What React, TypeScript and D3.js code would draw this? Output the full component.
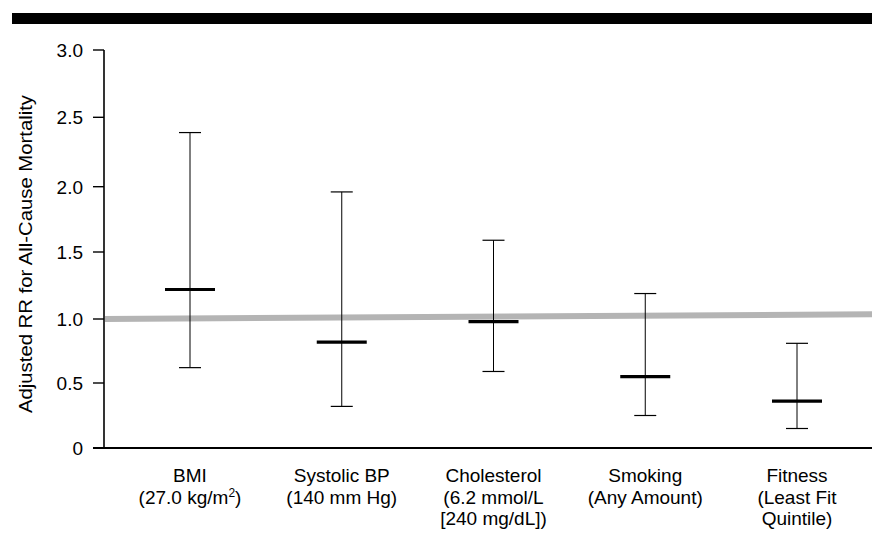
import React from "react";
import * as d3 from "d3";

const categories = [
  ["BMI", "(27.0 kg/m²)"],
  ["Systolic BP", "(140 mm Hg)"],
  ["Cholesterol", "(6.2 mmol/L", "[240 mg/dL])"],
  ["Smoking", "(Any Amount)"],
  ["Fitness", "(Least Fit", "Quintile)"],
];
const estimates = [1.22, 0.82, 0.98, 0.55, 0.36];
const lowerCI = [0.62, 0.32, 0.59, 0.25, 0.15];
const upperCI = [2.39, 1.96, 1.59, 1.19, 0.81];
const yTicks = [0, 0.5, 1.0, 1.5, 2.0, 2.5, 3.0];
const yTickLabels = ["0", "0.5", "1.0", "1.5", "2.0", "2.5", "3.0"];
const refLine = [1.0, 1.035];

const W = 872;
const H = 534;
const FONT = "'Liberation Sans', Arial, Helvetica, sans-serif";

export default function App() {
  const left = 104;
  const right = 872;
  const y = d3
    .scaleLinear()
    .domain(yTicks)
    .range([448, 383, 319, 252, 186.7, 117.3, 50]);
  const x = d3
    .scalePoint<number>()
    .domain(categories.map((_, i) => i))
    .range([190, 797]);

  return (
    <svg
      width={W}
      height={H}
      style={{ position: "absolute", left: 0, top: 0, background: "#fff" }}
    >
      <rect x={12} y={13} width={860} height={11} fill="#000" />
      {/* reference band */}
      <line
        x1={left + 1}
        x2={right}
        y1={y(refLine[0])}
        y2={y(refLine[1])}
        stroke="#b4b4b4"
        strokeWidth={6}
      />
      {/* axes */}
      <line x1={left} x2={left} y1={y(3)} y2={y(0)} stroke="#000" strokeWidth={1.6} />
      <line x1={93} x2={right} y1={y(0)} y2={y(0)} stroke="#000" strokeWidth={1.8} />
      {yTicks.map((t, i) => (
        <g key={i}>
          <line x1={93} x2={left} y1={y(t)} y2={y(t)} stroke="#000" strokeWidth={1.4} />
          <text
            x={83}
            y={y(t)}
            dy="0.36em"
            textAnchor="end"
            fontFamily={FONT}
            fontSize={19}
            fill="#000"
          >
            {yTickLabels[i]}
          </text>
        </g>
      ))}
      <text
        transform={`translate(32,254) rotate(-90)`}
        textAnchor="middle"
        fontFamily={FONT}
        fontSize={17.5}
        textLength={318}
        lengthAdjust="spacingAndGlyphs"
        fill="#000"
      >
        Adjusted RR for All-Cause Mortality
      </text>
      {categories.map((c, i) => {
        const cx = x(i) as number;
        return (
          <g key={i}>
            <line x1={cx} x2={cx} y1={y(upperCI[i])} y2={y(lowerCI[i])} stroke="#000" strokeWidth={1} />
            <line x1={cx - 11} x2={cx + 11} y1={y(upperCI[i])} y2={y(upperCI[i])} stroke="#000" strokeWidth={1.2} />
            <line x1={cx - 11} x2={cx + 11} y1={y(lowerCI[i])} y2={y(lowerCI[i])} stroke="#000" strokeWidth={1.2} />
            <line x1={cx - 25} x2={cx + 25} y1={y(estimates[i])} y2={y(estimates[i])} stroke="#000" strokeWidth={3.2} />
            {c.map((line, j) => (
              <text
                key={j}
                x={cx}
                y={482 + j * 21.5}
                textAnchor="middle"
                fontFamily={FONT}
                fontSize={19}
                fill="#000"
              >
                {line.endsWith("m²)") ? (
                  <>
                    (27.0 kg/m<tspan fontSize={12} dy={-7}>2</tspan>
                    <tspan dy={7}>)</tspan>
                  </>
                ) : (
                  line
                )}
              </text>
            ))}
          </g>
        );
      })}
    </svg>
  );
}
